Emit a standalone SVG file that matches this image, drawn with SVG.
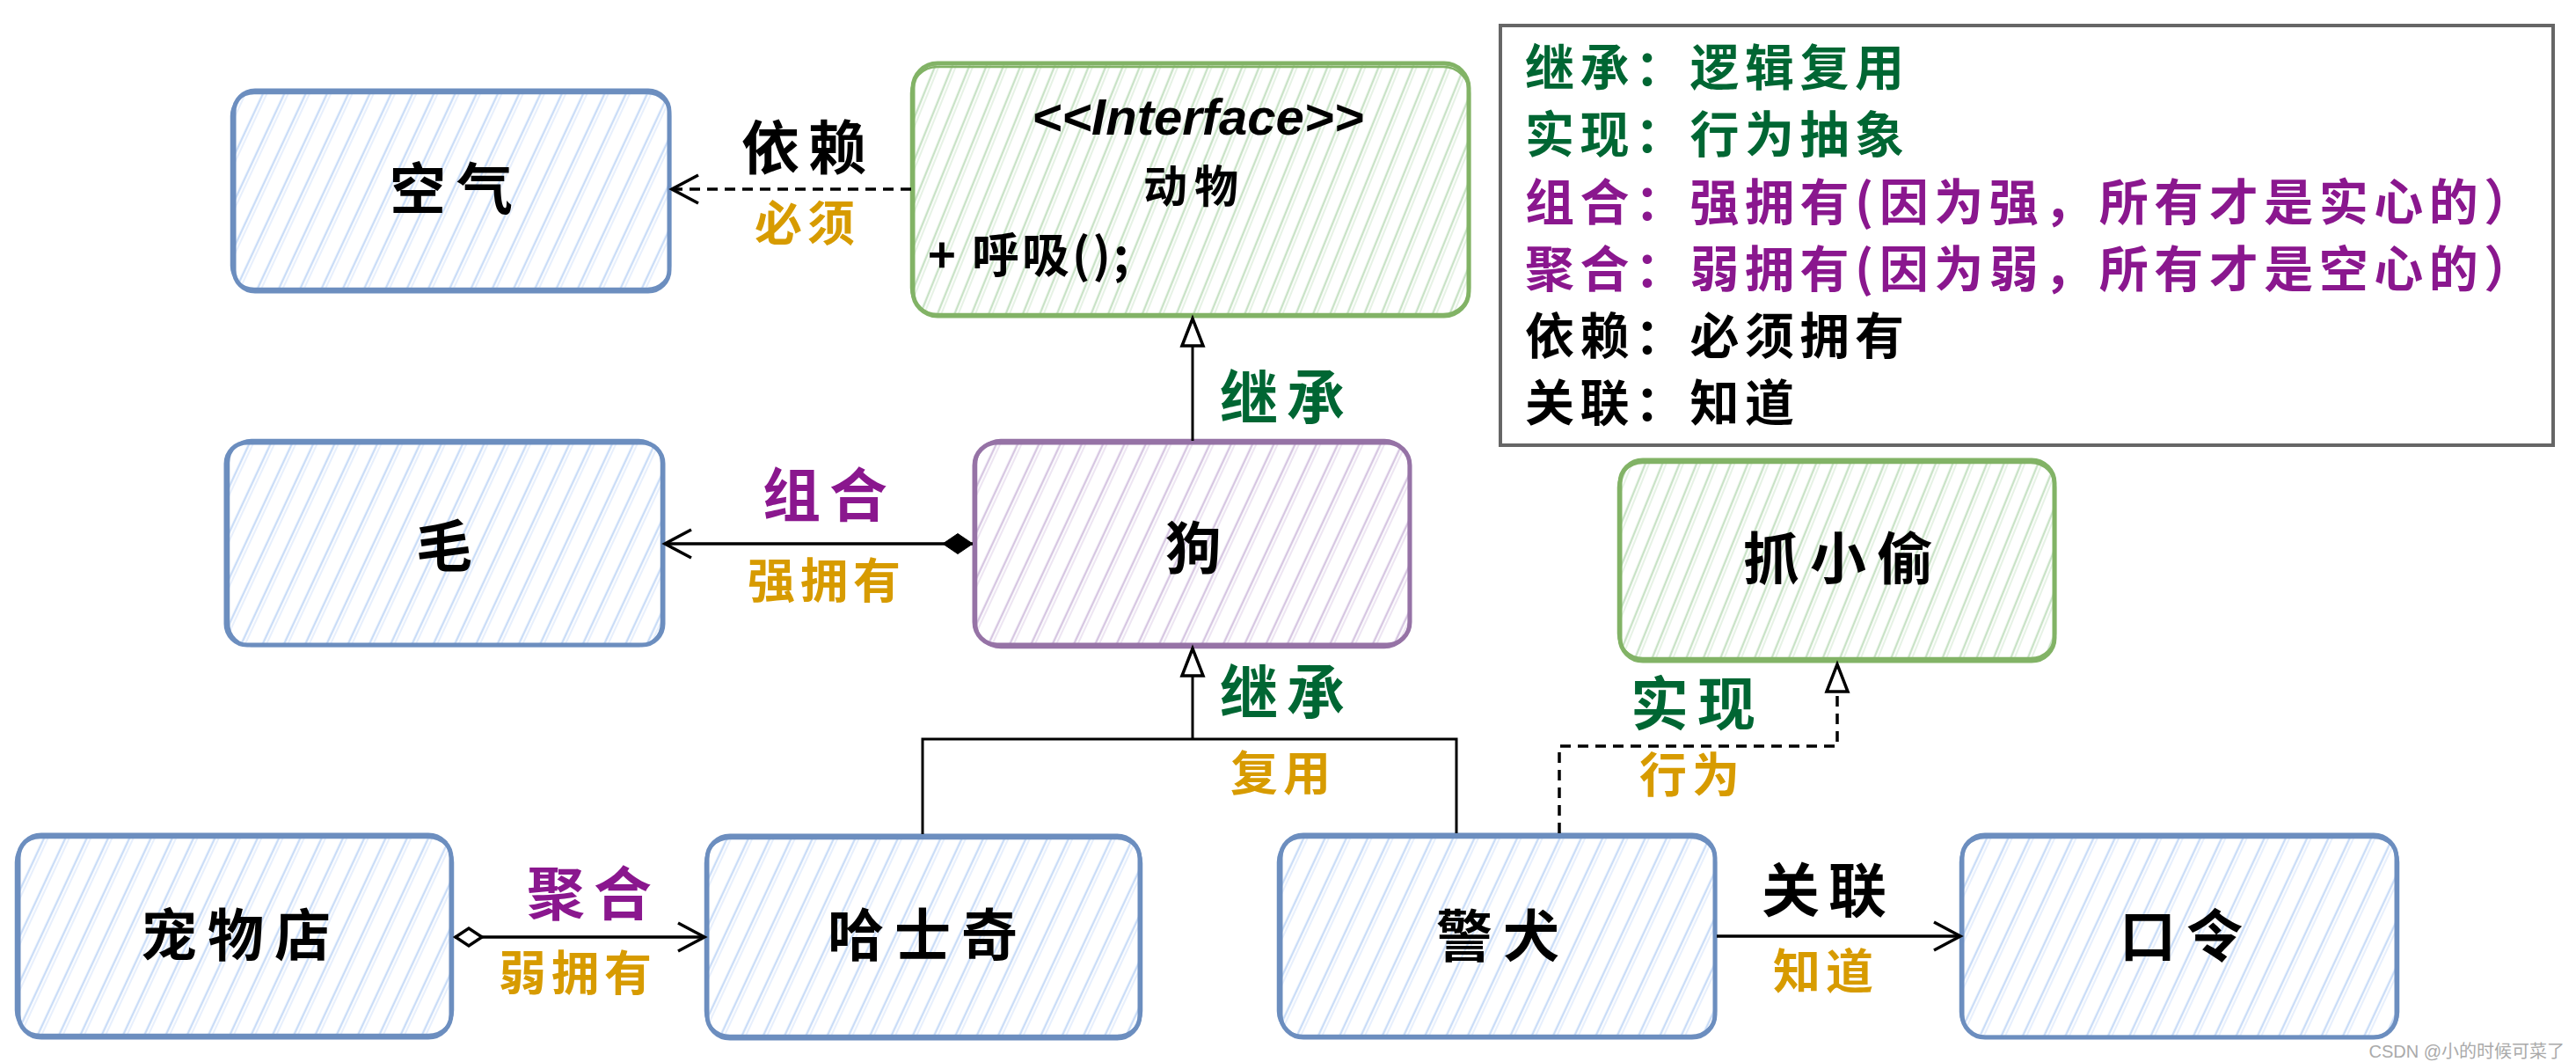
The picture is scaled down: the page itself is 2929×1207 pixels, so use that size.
<svg xmlns="http://www.w3.org/2000/svg" width="2929" height="1207" viewBox="0 0 2929 1207">
<defs>
<style>
.cjk{font-family:"Noto Sans CJK SC","Noto Sans",sans-serif;font-weight:700}
.node-text{font-size:64px;letter-spacing:12px;fill:#000;text-anchor:middle}
.lbl{font-size:66px;letter-spacing:10px;text-anchor:middle}
.sub{font-size:54px;letter-spacing:6px;text-anchor:middle;fill:#d79b00}
.green{fill:#006633}
.purple{fill:#8a178e}
.black{fill:#000}
.leg{font-size:56px;letter-spacing:6.5px}
.b-blue{stroke:#6c8ebf}
.b-purple{stroke:#9673a6}
.b-green{stroke:#82b366}
.box{stroke-width:5;stroke-linejoin:round}
.box2{fill:none;stroke-width:2.5}
.line{fill:none;stroke:#000;stroke-width:3.5}
.thin{fill:none;stroke:#000;stroke-width:3}
.dash{stroke-dasharray:12 8}
</style>
<pattern id="hBlue" patternUnits="userSpaceOnUse" width="22" height="22" patternTransform="rotate(25)">
<rect width="22" height="22" fill="#fff"/>
<line x1="8" y1="0" x2="8" y2="22" stroke="#c9dcf7" stroke-width="2.4"/>
<line x1="12" y1="0" x2="12" y2="22" stroke="#dde9fb" stroke-width="1.4"/>
</pattern>
<pattern id="hPurple" patternUnits="userSpaceOnUse" width="22" height="22" patternTransform="rotate(25)">
<rect width="22" height="22" fill="#fff"/>
<line x1="8" y1="0" x2="8" y2="22" stroke="#d6c6e1" stroke-width="2.4"/>
<line x1="12" y1="0" x2="12" y2="22" stroke="#e6dbed" stroke-width="1.4"/>
</pattern>
<pattern id="hGreen" patternUnits="userSpaceOnUse" width="18" height="18" patternTransform="rotate(22)">
<rect width="18" height="18" fill="#fff"/>
<line x1="6" y1="0" x2="6" y2="18" stroke="#c8e2c6" stroke-width="2.4"/>
<line x1="10" y1="0" x2="10" y2="18" stroke="#dcedda" stroke-width="1.4"/>
</pattern>
<marker id="openArrow" markerUnits="userSpaceOnUse" markerWidth="36" markerHeight="38" refX="32" refY="18" orient="auto" overflow="visible">
<path d="M2,2 L32,18 L2,34" fill="none" stroke="#000" stroke-width="3.5" stroke-dasharray="none"/>
</marker>
<marker id="hollowTri" markerUnits="userSpaceOnUse" markerWidth="36" markerHeight="30" refX="32" refY="13" orient="auto" overflow="visible">
<path d="M1,1 L32,13 L1,25 Z" fill="#fff" stroke="#000" stroke-width="3.5" stroke-dasharray="none" stroke-linejoin="miter"/>
</marker>
<marker id="fillDiamond" markerUnits="userSpaceOnUse" markerWidth="40" markerHeight="26" refX="0" refY="12" orient="auto" overflow="visible">
<path d="M0,12 L17,0.5 L34,12 L17,23.5 Z" fill="#000" stroke="#000" stroke-width="1"/>
</marker>
<marker id="openDiamond" markerUnits="userSpaceOnUse" markerWidth="40" markerHeight="26" refX="0" refY="11" orient="auto" overflow="visible">
<path d="M1,11 L16,1 L31,11 L16,21 Z" fill="#fff" stroke="#000" stroke-width="3.5" stroke-dasharray="none"/>
</marker>
</defs>

<rect width="2929" height="1207" fill="#fff"/>

<!-- Nodes -->
<g id="node-air">
<rect x="266" y="103" width="495" height="228" rx="24" fill="url(#hBlue)" class="box b-blue"/>
<rect x="263" y="106" width="499" height="222" rx="26" class="box2 b-blue"/>
<text x="519" y="238" class="cjk node-text">空气</text>
</g>

<g id="node-animal">
<rect x="1038" y="72" width="632" height="287" rx="28" fill="url(#hGreen)" class="box b-green"/>
<rect x="1036" y="76" width="635" height="281" rx="30" class="box2 b-green"/>
<text x="1362" y="153" font-family="Liberation Sans, Arial, sans-serif" font-style="italic" font-weight="bold" font-size="58" text-anchor="middle" fill="#000">&lt;&lt;Interface&gt;&gt;</text>
<text x="1358" y="230" class="cjk" font-size="50" letter-spacing="8" text-anchor="middle" fill="#000">动物</text>
<text x="1055" y="310" class="cjk" font-size="54" letter-spacing="3" fill="#000">+ 呼吸();</text>
</g>

<g id="node-hair">
<rect x="257" y="503" width="497" height="230" rx="24" fill="url(#hBlue)" class="box b-blue"/>
<rect x="260" y="500" width="492" height="234" rx="26" class="box2 b-blue"/>
<text x="511" y="644" class="cjk node-text">毛</text>
</g>

<g id="node-dog">
<rect x="1108" y="503" width="495" height="230" rx="26" fill="url(#hPurple)" class="box b-purple"/>
<rect x="1110" y="500" width="492" height="236" rx="28" class="box2 b-purple"/>
<text x="1363" y="646" class="cjk node-text">狗</text>
</g>

<g id="node-catch">
<rect x="1842" y="523" width="494" height="228" rx="26" fill="url(#hGreen)" class="box b-green"/>
<rect x="1840" y="526" width="497" height="222" rx="28" class="box2 b-green"/>
<text x="2096" y="658" class="cjk node-text">抓小偷</text>
</g>

<g id="node-petshop">
<rect x="21" y="949" width="492" height="230" rx="26" fill="url(#hBlue)" class="box b-blue"/>
<rect x="18" y="952" width="497" height="224" rx="28" class="box2 b-blue"/>
<text x="274" y="1086" class="cjk node-text">宠物店</text>
</g>

<g id="node-husky">
<rect x="804" y="950" width="492" height="230" rx="26" fill="url(#hBlue)" class="box b-blue"/>
<rect x="802" y="953" width="496" height="224" rx="28" class="box2 b-blue"/>
<text x="1055" y="1086" class="cjk node-text">哈士奇</text>
</g>

<g id="node-police">
<rect x="1456" y="949" width="494" height="230" rx="26" fill="url(#hBlue)" class="box b-blue"/>
<rect x="1453" y="952" width="498" height="225" rx="28" class="box2 b-blue"/>
<text x="1709" y="1087" class="cjk node-text">警犬</text>
</g>

<g id="node-password">
<rect x="2231" y="949" width="494" height="230" rx="26" fill="url(#hBlue)" class="box b-blue"/>
<rect x="2229" y="952" width="498" height="226" rx="28" class="box2 b-blue"/>
<text x="2486" y="1087" class="cjk node-text">口令</text>
</g>

<!-- Legend -->
<g id="legend">
<rect x="1706" y="29" width="1197" height="477" fill="#fff" stroke="#666" stroke-width="4"/>
<text x="1734" y="97" class="cjk leg green">继承：逻辑复用</text>
<text x="1734" y="173" class="cjk leg green">实现：行为抽象</text>
<text x="1734" y="250" class="cjk leg purple">组合：强拥有(因为强，所有才是实心的）</text>
<text x="1734" y="326" class="cjk leg purple">聚合：弱拥有(因为弱，所有才是空心的）</text>
<text x="1734" y="402" class="cjk leg black">依赖：必须拥有</text>
<text x="1734" y="478" class="cjk leg black">关联：知道</text>
</g>

<!-- Connectors -->
<g id="connectors">
<path d="M1036,215 L764,215" class="line dash" marker-end="url(#openArrow)"/>
<path d="M1106,618 L756,618" class="line" marker-start="url(#fillDiamond)" marker-end="url(#openArrow)"/>
<path d="M1356,501 L1356,362" class="thin" marker-end="url(#hollowTri)"/>
<path d="M1049,948 L1049,840 L1656,840 L1656,947" class="thin" stroke-linejoin="miter"/>
<path d="M1356,840 L1356,737" class="thin" marker-end="url(#hollowTri)"/>
<path d="M1773,947 L1773,848 L2089,848 L2089,755" class="line dash" marker-end="url(#hollowTri)"/>
<path d="M517,1065 L801,1065" class="line" marker-start="url(#openDiamond)" marker-end="url(#openArrow)"/>
<path d="M1952,1064 L2229,1064" class="line" marker-end="url(#openArrow)"/>
</g>

<!-- Connector labels -->
<g id="labels">
<text x="919" y="192" class="cjk lbl black">依赖</text>
<text x="918" y="274" class="cjk sub">必须</text>
<text x="943" y="587" class="cjk lbl purple">组合</text>
<text x="940" y="680" class="cjk sub">强拥有</text>
<text x="1463" y="476" class="cjk lbl green">继承</text>
<text x="1463" y="811" class="cjk lbl green">继承</text>
<text x="1459" y="899" class="cjk sub">复用</text>
<text x="1930" y="824" class="cjk lbl green">实现</text>
<text x="1924" y="901" class="cjk sub">行为</text>
<text x="675" y="1040" class="cjk lbl purple">聚合</text>
<text x="657" y="1126" class="cjk sub">弱拥有</text>
<text x="2079" y="1036" class="cjk lbl black">关联</text>
<text x="2076" y="1124" class="cjk sub">知道</text>
</g>

<text x="2916" y="1202" font-family="Liberation Sans, Arial, 'Noto Sans CJK SC', sans-serif" font-size="20" fill="#aaa" text-anchor="end">CSDN @小的时候可菜了</text>
</svg>
